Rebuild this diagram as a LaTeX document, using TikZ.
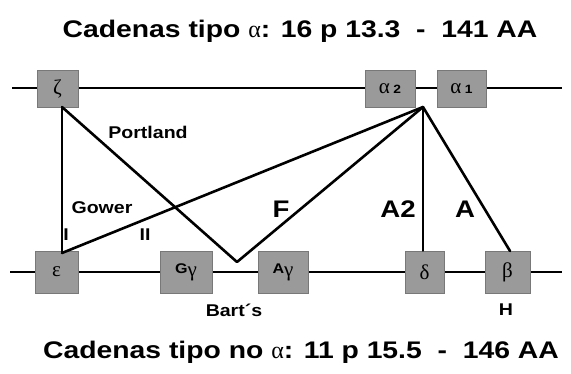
\documentclass[tikz,border=0pt]{standalone}
\usepackage{fontspec}
\setmainfont{Liberation Sans}
\newfontfamily\labfont[FakeStretch=1.15]{Liberation Sans}
\newfontfamily\titlefont[FakeStretch=1.18]{Liberation Sans}
\newfontfamily\grfont{Liberation Serif}
\definecolor{boxgray}{HTML}{9A9A9A}
\definecolor{boxedge}{HTML}{787878}
\tikzset{
  gene/.style={draw=boxedge, line width=0.8pt, fill=boxgray, inner sep=0pt,
    font=\grfont\fontsize{21}{21}\selectfont},
  topgene/.style={gene, minimum height=37pt},
  botgene/.style={gene, minimum height=42pt},
  chrom/.style={line width=2.6pt, black},
  link/.style={line width=2.6pt, black, line cap=round, line join=round},
  lbl/.style={font=\labfont\bfseries\fontsize{17}{17}\selectfont, inner sep=0pt},
  big/.style={font=\labfont\bfseries\fontsize{24}{24}\selectfont, inner sep=0pt},
  title/.style={font=\titlefont\bfseries\fontsize{24}{24}\selectfont, inner sep=0pt}
}
\newcommand{\smallsub}[1]{{\labfont\bfseries\fontsize{12}{12}\selectfont #1}}
\newcommand{\pre}[1]{{\labfont\bfseries\fontsize{14}{14}\selectfont #1}}
\begin{document}
\begin{tikzpicture}[x=1pt, y=-1pt]
\useasboundingbox (0,0) rectangle (571,374);

% chromosome lines
\coordinate (tl) at (12,88);
\coordinate (tr) at (562,88);
\coordinate (bl) at (10,272);
\coordinate (br) at (562,272);
\draw[chrom] (tl) -- (tr);
\draw[chrom] (bl) -- (br);

% alpha-type genes (chromosome 16)
\node[topgene, minimum width=41pt] (zeta) at (57.5,88.5) {ζ};
\node[topgene, minimum width=50pt] (a2) at (390,88.5) {α\,\smallsub{2}};
\node[topgene, minimum width=49pt] (a1) at (461.5,88.5) {α\,\smallsub{1}};

% non-alpha genes (chromosome 11)
\node[botgene, minimum width=43pt] (eps) at (56.5,272) {ε};
\node[botgene, minimum width=52pt] (gg) at (186,272) {\raisebox{3pt}{\pre{G}}γ};
\node[botgene, minimum width=50pt] (ag) at (283,272) {\raisebox{3pt}{\pre{A}}γ};
\node[botgene, minimum width=39pt] (del) at (424.5,272) {δ};
\node[botgene, minimum width=45pt] (bet) at (507.5,272) {β};

% junction points of the pairing lines
\coordinate (apex) at (423,107);
\coordinate (vee) at (237,262);
\coordinate (zfoot) at (62,107);
\coordinate (efoot) at (62,253);

% pairings
\draw[link] (zfoot) -- (efoot);
\draw[link] (zfoot) -- (vee) -- (apex);
\draw[link] (efoot) -- (apex);
\draw[link] (apex) -- (del.north -| apex);
\draw[link] (apex) -- (510,251);

% labels
\node[lbl] (portland) at (148,132) {Portland};
\node[lbl] (gower) at (102,208) {Gower};
\node[lbl] (one) at (66,235) {I};
\node[lbl] (two) at (145,235) {II};
\node[big] (f) at (281,209) {F};
\node[big] (atwo) at (398,209) {A2};
\node[big] (aone) at (465,209) {A};
\node[lbl] (barts) at (234,310) {Bart´s};
\node[lbl] (h) at (506,310) {H};

% titles
\node[title] (ttop) at (300,31) {Cadenas tipo {\grfont\mdseries α}: 16 p 13.3 \ - \ 141 AA};
\node[title] (tbot) at (301,352) {Cadenas tipo no {\grfont\mdseries α}: 11 p 15.5 \ - \ 146 AA};
\end{tikzpicture}
\end{document}
